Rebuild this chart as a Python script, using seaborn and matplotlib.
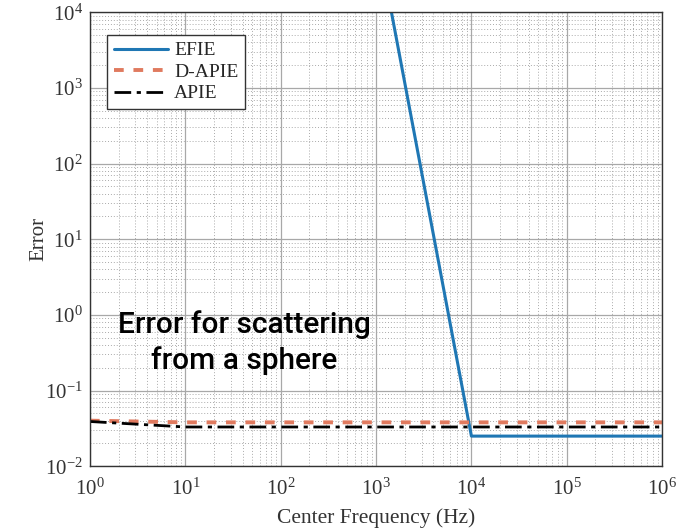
import numpy as np
import pandas as pd
import matplotlib
matplotlib.use("Agg")
import matplotlib.pyplot as plt
import seaborn as sns

freq = [1e0, 1e1, 1e2, 1e3, 1e4, 1e5, 1e6]
efie = [1e20, 1e15, 1e10, 1.2e5, 0.025, 0.025, 0.025]
dapie = [0.040, 0.038, 0.038, 0.038, 0.038, 0.038, 0.038]
apie = [0.039, 0.033, 0.033, 0.033, 0.033, 0.033, 0.033]
x_ticks = [1e0, 1e1, 1e2, 1e3, 1e4, 1e5, 1e6]
y_ticks = [1e-2, 1e-1, 1e0, 1e1, 1e2, 1e3, 1e4]

sns.set_theme(style="white")
plt.rcParams['font.family'] = ['Liberation Serif', 'DejaVu Serif']
plt.rcParams['mathtext.fontset'] = 'stix'

fig = plt.figure(figsize=(6.97, 5.31), dpi=100)
ax = fig.add_axes([0.129, 0.122, 0.821, 0.855])

df_e = pd.DataFrame({"f": freq, "v": efie})
df_d = pd.DataFrame({"f": freq, "v": dapie})
df_a = pd.DataFrame({"f": freq, "v": apie})

sns.lineplot(data=df_e, x="f", y="v", ax=ax, color="#1f77b4", lw=2.2, label="EFIE")
sns.lineplot(data=df_d, x="f", y="v", ax=ax, color="#E07A5F", lw=2.8, label="D-APIE",
             linestyle=(0, (2.5, 2.5)))
sns.lineplot(data=df_a, x="f", y="v", ax=ax, color="black", lw=2.0, label="APIE",
             linestyle=(0, (6, 2, 1.5, 2)))

ax.set_xscale("log")
ax.set_yscale("log")
ax.set_xlim(1e0, 1e6)
ax.set_ylim(1e-2, 1e4)
ax.set_xticks(x_ticks)
ax.set_yticks(y_ticks)
ax.tick_params(axis="both", which="major", labelsize=15, direction="in", length=4,
               color="#333333", labelcolor="#333333")
ax.tick_params(axis="x", which="major", pad=9)
ax.tick_params(axis="y", which="major", pad=5)
ax.tick_params(axis="both", which="minor", direction="in", length=2, color="#555555")
ax.grid(True, which="major", color="#a8a8a8", lw=0.9, ls="-")
ax.grid(True, which="minor", color="#aaaaaa", lw=0.7, ls=(0, (1, 2)))
for s in ax.spines.values():
    s.set_color("#333333")
    s.set_linewidth(1.0)

ax.set_xlabel("Center Frequency (Hz)", fontsize=15.5, color="#333333", labelpad=6)
ax.set_ylabel("Error", fontsize=15, color="#333333", labelpad=-2)

leg = ax.legend(loc="upper left", fontsize=14, frameon=True, fancybox=False,
                edgecolor="#333333", framealpha=1, handlelength=2.8, handletextpad=0.3,
                borderpad=0.35, labelspacing=0.2, borderaxespad=0,
                bbox_to_anchor=(0.03, 0.95))
leg.get_frame().set_linewidth(1.0)

ax.text(0.27, 0.272, "Error for scattering\nfrom a sphere", transform=ax.transAxes,
        ha="center", va="center", fontsize=21.5, color="black", linespacing=1.3,
        fontweight="medium", family=["Roboto", "DejaVu Sans"])

fig.savefig("out.png", dpi=100)
